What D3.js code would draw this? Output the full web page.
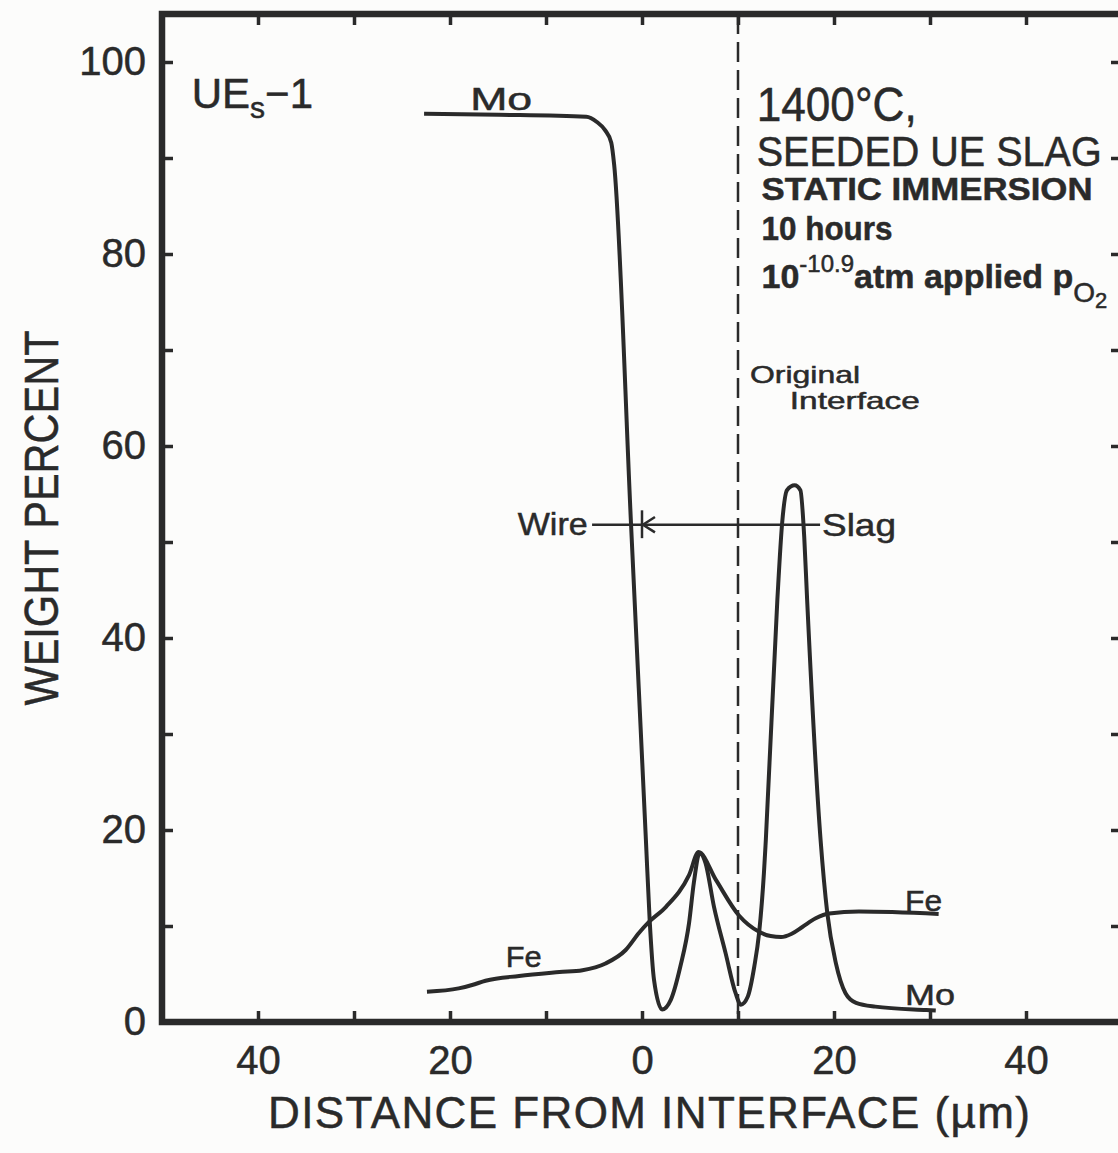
<!DOCTYPE html>
<html><head><meta charset="utf-8">
<script src="https://cdn.jsdelivr.net/npm/d3@7"></script>
<style>
body{margin:0;background:#fcfcfb}
text{font-family:"Liberation Sans",Arial,sans-serif;fill:#2a2a2a;stroke:#2a2a2a;stroke-width:0.5}
</style>
</head><body><svg id="c" width="1118" height="1153"></svg>
<script>
// ---- data (distance in µm, weight percent) ----
const moX = [-22.7,-14.9,-5.8,-4.7,-3.85,-3.2,-2.9,-1.14,0.405,0.8,1.25,2.1,3.0,4.0,4.9,5.4,6.0,6.6,7.5,8.7,9.75,10.3,11.0,11.7,12.2,12.7,12.9,14.1,14.6,15.1,15.9,16.5,16.9,17.2,18.6,19.3,20.2,21.2,22.3,24.3,29.6,30.6];
const moY = [94.6,94.5,94.3,93.75,92.9,91.6,89.3,51.8,19.0,10.6,4.4,1.3,2.3,5.8,10.3,14.5,17.6,16.6,12.0,7.2,3.0,1.8,2.6,5.8,9.3,15.5,19.0,44.0,52.0,55.4,55.9,55.4,50.5,44.0,19.0,11.35,6.1,3.0,2.0,1.6,1.25,1.2];
const feX = [-22.4,-19.1,-17.7,-16.3,-12.8,-8.6,-6.2,-3.8,-1.7,-0.3,0.7,2.5,4.9,5.9,7.7,10.1,12.2,13.4,14.5,15.6,16.7,18.1,19.5,22.6,30.9];
const feY = [3.16,3.5,3.85,4.3,4.8,5.2,5.4,6.1,7.5,9.3,10.4,12.0,15.3,17.7,14.8,11.1,9.4,8.95,8.85,9.2,9.9,10.8,11.3,11.5,11.25];
const xTicks = [-40,-30,-20,-10,0,10,20,30,40];
const xLabeled = [-40,-20,0,20,40];
const yTicks = [0,10,20,30,40,50,60,70,80,90,100];
const yLabeled = [0,20,40,60,80,100];
const interfaceX = 10;

const svg = d3.select("#c");
const ink = "#2a2a2a";
const x = d3.scaleLinear().domain([-50,50]).range([162,1122]);
const y = d3.scaleLinear().domain([0,105]).range([1022,14]);

// frame
svg.append("rect").attr("x",x(-50)).attr("y",y(105))
  .attr("width",x(50)-x(-50)).attr("height",y(0)-y(105))
  .attr("fill","none").attr("stroke",ink).attr("stroke-width",6.5);

function styleAxis(g){
  g.select(".domain").remove();
  g.selectAll(".tick line").attr("stroke",ink).attr("stroke-width",3.5);
  g.selectAll(".tick text").attr("font-size",40).attr("fill",ink)
   .attr("font-family","Liberation Sans, Arial, sans-serif");
}
svg.append("g").attr("transform",`translate(0,${y(0)})`)
  .call(d3.axisBottom(x).tickValues(xTicks).tickSize(-11).tickPadding(24)
    .tickFormat(d=>xLabeled.includes(d)?String(Math.abs(d)):""))
  .call(styleAxis);
svg.append("g").attr("transform",`translate(0,${y(105)})`)
  .call(d3.axisTop(x).tickValues(xTicks).tickSize(-11).tickFormat(""))
  .call(styleAxis);
svg.append("g").attr("transform",`translate(${x(-50)},0)`)
  .call(d3.axisLeft(y).tickValues(yTicks).tickSize(-11).tickPadding(16)
    .tickFormat(d=>yLabeled.includes(d)?String(d):""))
  .call(styleAxis);
svg.append("g").attr("transform",`translate(${x(50)},0)`)
  .call(d3.axisRight(y).tickValues(yTicks).tickSize(-11).tickFormat(""))
  .call(styleAxis);

// original interface dashed line
svg.append("line").attr("x1",x(interfaceX)).attr("x2",x(interfaceX))
  .attr("y1",y(105)).attr("y2",y(0))
  .attr("stroke",ink).attr("stroke-width",2.5).attr("stroke-dasharray","20,8");

// curves
const line = d3.line().x(d=>x(d[0])).y(d=>y(d[1])).curve(d3.curveMonotoneX);
svg.append("path").datum(d3.zip(moX,moY)).attr("d",line)
  .attr("fill","none").attr("stroke",ink).attr("stroke-width",4).attr("stroke-linejoin","round");
svg.append("path").datum(d3.zip(feX,feY)).attr("d",line)
  .attr("fill","none").attr("stroke",ink).attr("stroke-width",4).attr("stroke-linejoin","round");

// wire / slag arrow
const arrowY = 51.8;
svg.append("line").attr("x1",x(-5.2)).attr("x2",x(18.55)).attr("y1",y(arrowY)).attr("y2",y(arrowY))
  .attr("stroke",ink).attr("stroke-width",2.5);
svg.append("line").attr("x1",x(0)).attr("x2",x(0)).attr("y1",y(53.3)).attr("y2",y(50.4))
  .attr("stroke",ink).attr("stroke-width",2.5);
svg.append("path")
  .attr("d",`M${x(1.35)},${y(52.6)} L${x(0.1)},${y(arrowY)} L${x(1.35)},${y(51.0)}`)
  .attr("fill","none").attr("stroke",ink).attr("stroke-width",2.5);

// text helper
function label(t,xv,yv,size,len,opts={}){
  const el = svg.append("text").attr("x",x(xv)).attr("y",y(yv))
    .attr("font-size",size).text(t);
  if(len) el.attr("textLength",len).attr("lengthAdjust",opts.adj||"spacingAndGlyphs");
  if(opts.bold) el.attr("font-weight","bold").attr("stroke-width",0);
  return el;
}
label("Wire",-12.95,50.7,32,70);
label("Slag",18.75,50.6,32,74);
label("Mo",-17.9,95.0,32,62);
label("Fe",-14.2,5.7,30,36);
label("Fe",27.4,11.6,30,37);
label("Mo",27.4,1.8,30,50);
label("Original",11.25,66.6,24,110);
label("Interface",15.4,63.9,24,130);
label("1400°C,",11.95,93.9,48,160);
label("SEEDED UE SLAG",11.95,89.2,42,345);
label("STATIC IMMERSION",12.45,85.6,32,331,{bold:true});
label("10 hours",12.45,81.5,34,131,{bold:true});

// UEs-1
const ue = svg.append("text").attr("x",x(-46.9)).attr("y",y(95.2)).attr("font-size",42);
ue.append("tspan").text("UE");
ue.append("tspan").attr("dy",10).attr("font-size",30).text("s");
ue.append("tspan").attr("dy",-10).text("−1");

// pO2 line
const po = svg.append("text").attr("x",x(12.45)).attr("y",y(76.5)).attr("font-size",34)
  .attr("font-weight","bold").attr("stroke-width",0);
po.append("tspan").text("10");
po.append("tspan").attr("dy",-16).attr("font-size",24).attr("font-weight","normal").text("-10.9");
po.append("tspan").attr("dy",16).text("atm applied p");
po.append("tspan").attr("dy",14).attr("font-size",28).attr("font-weight","normal").text("O");
po.append("tspan").attr("dy",6).attr("font-size",22).attr("font-weight","normal").text("2");

// axis titles
svg.append("text").attr("transform",`translate(58,518) rotate(-90)`)
  .attr("text-anchor","middle").attr("font-size",48)
  .attr("textLength",375).attr("lengthAdjust","spacingAndGlyphs").text("WEIGHT PERCENT");
svg.append("text").attr("x",649).attr("y",1128).attr("text-anchor","middle")
  .attr("font-size",44).attr("textLength",762).attr("lengthAdjust","spacing")
  .text("DISTANCE FROM INTERFACE (µm)");
</script></body></html>
